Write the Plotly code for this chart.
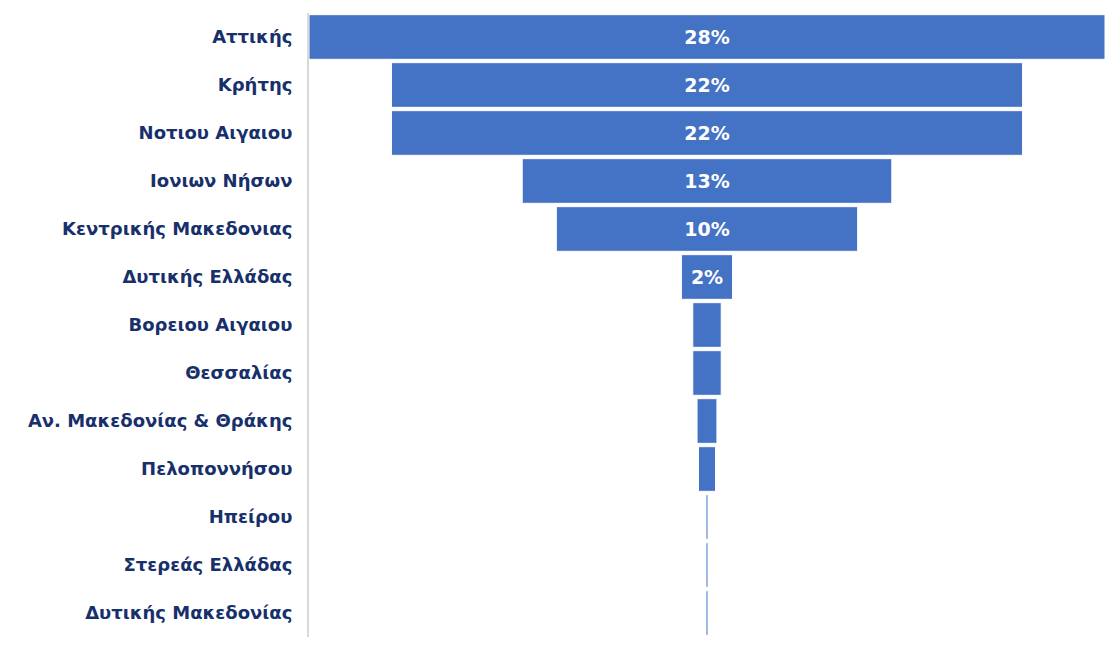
import plotly.graph_objects as go

regions = ["Αττικής", "Κρήτης", "Νοτιου Αιγαιου", "Ιονιων Νήσων", "Κεντρικής Μακεδονιας",
           "Δυτικής Ελλάδας", "Βορειου Αιγαιου", "Θεσσαλίας", "Αν. Μακεδονίας & Θράκης",
           "Πελοποννήσου", "Ηπείρου", "Στερεάς Ελλάδας", "Δυτικής Μακεδονίας"]
shares = [28.0, 22.2, 22.2, 13.0, 10.6, 1.8, 1.0, 1.0, 0.7, 0.6, 0.07, 0.07, 0.07]
bar_labels = ["28%", "22%", "22%", "13%", "10%", "2%", "", "", "", "", "", "", ""]

fig = go.Figure(go.Funnel(
    y=regions,
    x=shares,
    text=bar_labels,
    textinfo="text",
    textposition="inside",
    insidetextanchor="middle",
    constraintext="none",
    textfont=dict(family="DejaVu Sans", size=19, color="white", weight="bold"),
    marker=dict(color="#4472C4", line=dict(color="white", width=1)),
    connector=dict(visible=False),
    hoverinfo="y+x",
))

fig.update_layout(
    width=1108, height=640,
    margin=dict(l=301, r=11, t=5, b=11),
    paper_bgcolor="white", plot_bgcolor="white",
    showlegend=False,
    funnelgap=0.07,
    xaxis=dict(visible=False, range=[-14.0, 14.0]),
    yaxis=dict(
        showline=True, linecolor="#D9D9D9", linewidth=2,
        showgrid=False, ticks="", ticklabelstandoff=11,
        tickfont=dict(family="DejaVu Sans", size=18, color="#17306B", weight="bold"),
    ),
)

fig.write_html("out.html")
